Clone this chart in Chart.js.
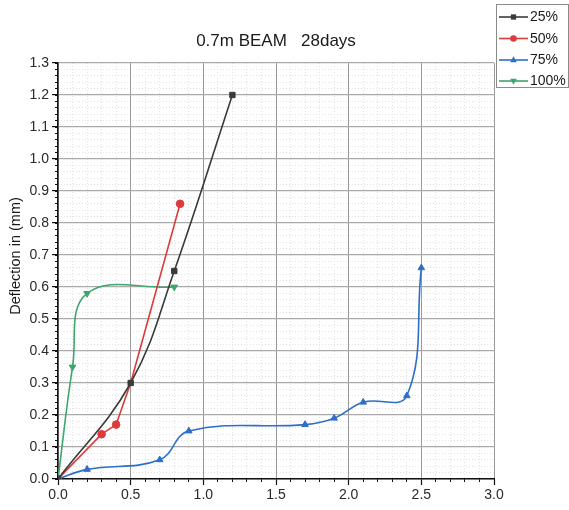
<!DOCTYPE html>
<html><head><meta charset="utf-8">
<script src="https://cdn.jsdelivr.net/npm/chart.js@4.4.0/dist/chart.umd.min.js"></script>
<style>html,body{margin:0;padding:0;background:#fff;overflow:hidden;} #wrap{width:569px;height:510px;position:relative;}</style>
</head><body><div id="wrap"><canvas id="c" width="569" height="510"></canvas></div>
<script>
const chartTitle = '0.7m BEAM   28days';
const yAxisTitle = 'Deflection in (mm)';
const seriesLabels = ['25%', '50%', '75%', '100%'];
const xTickLabels = ['0.0', '0.5', '1.0', '1.5', '2.0', '2.5', '3.0'];
const yTickLabels = ['0.0','0.1','0.2','0.3','0.4','0.5','0.6','0.7','0.8','0.9','1.0','1.1','1.2','1.3'];

const x25 = [0, 0.5, 0.8, 1.2];
const y25 = [0, 0.3, 0.65, 1.2];
const x50 = [0, 0.3, 0.4, 0.5, 0.84];
const y50 = [0, 0.14, 0.17, 0.3, 0.86];
const x75 = [0, 0.2, 0.7, 0.9, 1.7, 1.9, 2.1, 2.4, 2.5];
const y75 = [0, 0.03, 0.06, 0.15, 0.17, 0.19, 0.24, 0.26, 0.66];
const x100 = [0, 0.1, 0.2, 0.8];
const y100 = [0, 0.35, 0.58, 0.6];

const FONT = "'Liberation Sans', Arial, sans-serif";
const pts = (xs, ys) => xs.map((x, i) => ({x: x, y: ys[i]}));

function mk(label, xs, ys, color, style, rot, tension) {
  return {
    label: label, data: pts(xs, ys), borderColor: color, backgroundColor: color,
    borderWidth: 1.6, pointStyle: style, pointRotation: rot, pointRadius: 3.8,
    pointBorderWidth: 1, tension: tension, fill: false
  };
}

function drawMarker(ctx, style, rot, x, y, r, color) {
  ctx.save();
  ctx.fillStyle = color; ctx.strokeStyle = color;
  ctx.translate(x, y); ctx.rotate(rot * Math.PI / 180);
  ctx.beginPath();
  if (style === 'rect') { ctx.rect(-r * 0.8, -r * 0.8, r * 1.6, r * 1.6); }
  else if (style === 'circle') { ctx.arc(0, 0, r, 0, Math.PI * 2); }
  else if (style === 'triangle') { ctx.moveTo(0, -r * 1.1); ctx.lineTo(r, r * 0.7); ctx.lineTo(-r, r * 0.7); ctx.closePath(); }
  ctx.fill();
  ctx.restore();
}

const textPlugin = {
  id: 'texts',
  afterDraw(chart) {
    const ctx = chart.ctx;
    ctx.save();
    ctx.fillStyle = '#1a1a1a';
    ctx.font = '17px ' + FONT;
    ctx.textAlign = 'center'; ctx.textBaseline = 'middle';
    ctx.fillText(chartTitle, 276, 41);
    ctx.save();
    ctx.translate(16, 256); ctx.rotate(-Math.PI / 2);
    ctx.font = '14.5px ' + FONT;
    ctx.fillText(yAxisTitle, 0, 0);
    ctx.restore();
    // legend
    ctx.strokeStyle = '#8a8a8a'; ctx.lineWidth = 1;
    ctx.fillStyle = '#fff';
    ctx.fillRect(496.5, 4.5, 72, 83);
    ctx.strokeRect(496.5, 4.5, 72, 83);
    const rows = [17, 38.5, 60, 81];
    chart.data.datasets.forEach((ds, i) => {
      const y = rows[i];
      ctx.strokeStyle = ds.borderColor; ctx.lineWidth = 1.6;
      ctx.beginPath(); ctx.moveTo(499, y); ctx.lineTo(528, y); ctx.stroke();
      drawMarker(ctx, ds.pointStyle, ds.pointRotation, 513.5, y, 3.3, ds.borderColor);
      ctx.fillStyle = '#1a1a1a';
      ctx.font = '14px ' + FONT;
      ctx.textAlign = 'left'; ctx.textBaseline = 'middle';
      ctx.fillText(ds.label, 530, y + 0.5);
    });
    ctx.restore();
  }
};

const majorGrid = '#aaaaaa';
const minorGrid = '#e2e2e2';
const isMult = (v, step) => Math.abs(v / step - Math.round(v / step)) < 1e-6;

const ds50 = mk(seriesLabels[1], x50, y50, '#dc3b3b', 'circle', 0, 0);
ds50.pointRadius = x50.map((x) => (x === 0.5 ? 0 : 3.8));

new Chart(document.getElementById('c'), {
  type: 'line',
  data: {
    datasets: [
      mk(seriesLabels[0], x25, y25, '#3a3a3a', 'rect', 0, 0.4),
      ds50,
      mk(seriesLabels[2], x75, y75, '#2d6fc8', 'triangle', 0, 0.4),
      mk(seriesLabels[3], x100, y100, '#3da66c', 'triangle', 180, 0.4)
    ]
  },
  options: {
    responsive: false, animation: false, devicePixelRatio: 1,
    layout: {padding: {top: 63, right: 75, left: 0, bottom: 0}},
    plugins: {legend: {display: false}, title: {display: false}, tooltip: {enabled: false}},
    scales: {
      xMinor: {
        type: 'linear', position: 'bottom', weight: 0, min: 0, max: 3,
        afterFit(s) { s.height = 0; },
        ticks: {display: false, stepSize: 0.1},
        grid: {color: (c) => (c.tick && isMult(c.tick.value, 0.5) ? 'rgba(0,0,0,0)' : minorGrid),
          lineWidth: 1, tickLength: 3, tickColor: '#111', tickWidth: 1},
        border: {display: false, dash: [1, 2]}
      },
      yMinor: {
        type: 'linear', position: 'left', weight: 0, min: 0, max: 1.3,
        afterFit(s) { s.width = 0; },
        ticks: {display: false, stepSize: 0.02},
        grid: {color: (c) => (c.tick && isMult(c.tick.value, 0.1) ? 'rgba(0,0,0,0)' : minorGrid),
          lineWidth: 1, tickLength: 3, tickColor: '#111', tickWidth: 1},
        border: {display: false, dash: [1, 2]}
      },
      x: {
        type: 'linear', position: 'bottom', weight: 1, min: 0, max: 3,
        afterFit(s) { s.height = 31; },
        ticks: {stepSize: 0.5, padding: 2, color: '#2a2a2a', font: {size: 14, family: FONT},
          callback: (v) => xTickLabels[Math.round(v / 0.5)], maxRotation: 0, autoSkip: false},
        grid: {color: '#9a9a9a', lineWidth: 1, tickLength: 6, tickColor: '#111', tickWidth: 1.2},
        border: {display: true, color: '#111', width: 1.5}
      },
      y: {
        type: 'linear', position: 'left', weight: 1, min: 0, max: 1.3,
        afterFit(s) { s.width = 58; },
        ticks: {stepSize: 0.1, padding: 3, color: '#2a2a2a', font: {size: 14, family: FONT},
          callback: (v) => yTickLabels[Math.round(v / 0.1)], autoSkip: false},
        grid: {color: majorGrid, lineWidth: 1.2, tickLength: 6, tickColor: '#111', tickWidth: 1.2},
        border: {display: true, color: '#111', width: 1.5}
      }
    }
  },
  plugins: [textPlugin]
});
</script>
</body></html>
